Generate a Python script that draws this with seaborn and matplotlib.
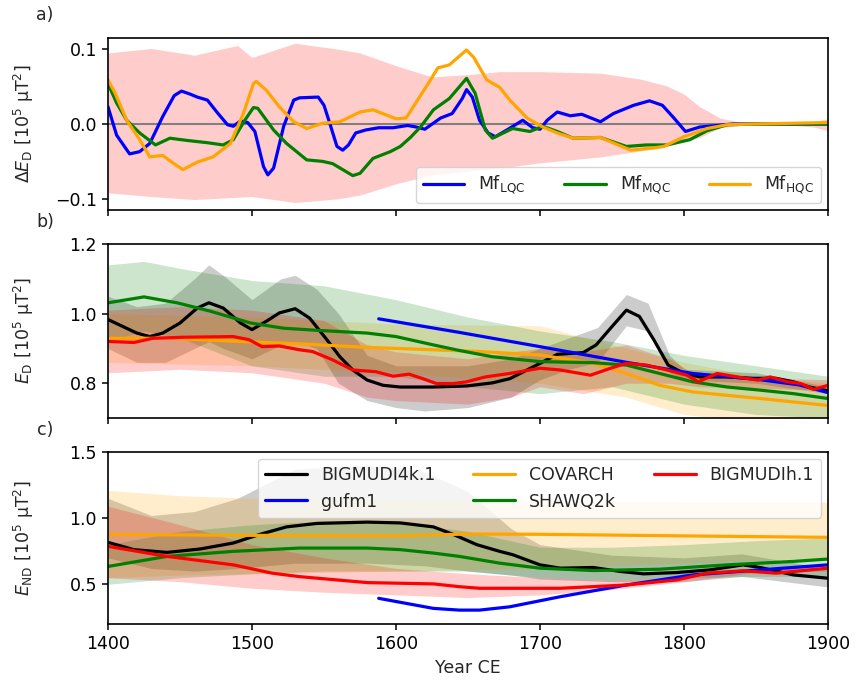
import numpy as np
import pandas as pd
import matplotlib
matplotlib.use("Agg")
import matplotlib.pyplot as plt
import seaborn as sns

# ---------------- Panel a: Delta E_D ----------------
a_lqc_year = [1400,1406,1415,1422,1429,1438,1446,1451,1457,1462,1469,1476,1483,1487,1492,1497,1502,1508,1511,1515,1522,1529,1533,1546,1550,1554,1559,1563,1567,1572,1579,1588,1598,1608,1614,1620,1631,1639,1646,1649,1653,1658,1664,1669,1677,1688,1695,1700,1705,1712,1721,1729,1742,1751,1765,1776,1785,1793,1801,1811,1823,1834,1860,1900]
a_lqc_val = [0.023,-0.015,-0.040,-0.037,-0.026,0.010,0.038,0.044,0.040,0.036,0.032,0.015,-0.001,-0.003,0.004,0.002,-0.010,-0.057,-0.068,-0.059,-0.003,0.032,0.035,0.036,0.025,0.001,-0.030,-0.035,-0.028,-0.012,-0.008,-0.005,-0.005,-0.002,-0.004,-0.007,0.008,0.014,0.034,0.046,0.036,0.005,-0.012,-0.017,-0.008,0.005,-0.005,-0.007,0.005,0.016,0.011,0.013,0.003,0.014,0.025,0.031,0.025,0.008,-0.010,-0.004,-0.002,0.000,0.000,0.000]

a_mqc_year = [1400,1406,1413,1422,1433,1443,1455,1469,1480,1487,1495,1501,1504,1515,1524,1538,1549,1556,1570,1575,1584,1596,1603,1610,1617,1626,1637,1649,1655,1662,1667,1681,1693,1702,1712,1723,1742,1760,1774,1788,1804,1816,1830,1850,1900]
a_mqc_val = [0.054,0.028,0.005,-0.012,-0.028,-0.019,-0.022,-0.025,-0.028,-0.021,0.005,0.022,0.021,-0.008,-0.026,-0.048,-0.050,-0.053,-0.069,-0.066,-0.046,-0.037,-0.030,-0.018,-0.004,0.019,0.034,0.061,0.041,-0.008,-0.019,-0.006,-0.010,-0.003,-0.010,-0.019,-0.018,-0.030,-0.028,-0.028,-0.021,-0.009,-0.001,0.000,0.000]

a_hqc_year = [1400,1405,1413,1422,1429,1438,1445,1452,1462,1473,1485,1494,1501,1503,1510,1519,1529,1538,1549,1561,1575,1584,1600,1607,1615,1624,1629,1637,1649,1654,1663,1672,1679,1691,1702,1712,1723,1742,1763,1779,1786,1800,1816,1830,1850,1900]
a_hqc_val = [0.059,0.041,0.005,-0.021,-0.044,-0.042,-0.052,-0.061,-0.051,-0.044,-0.026,0.014,0.054,0.057,0.045,0.023,0.003,-0.006,0.001,0.003,0.016,0.019,0.007,0.008,0.032,0.059,0.075,0.079,0.099,0.089,0.059,0.049,0.032,0.008,-0.004,-0.012,-0.019,-0.018,-0.035,-0.032,-0.030,-0.017,-0.006,-0.001,0.000,0.002]

a_band_year = [1400,1430,1460,1490,1500,1530,1560,1575,1600,1625,1650,1672,1700,1742,1770,1788,1800,1811,1825,1840,1870,1890,1900]
a_band_up = [0.095,0.101,0.092,0.105,0.089,0.108,0.100,0.095,0.078,0.063,0.066,0.070,0.070,0.068,0.060,0.051,0.040,0.023,0.008,0.002,0.001,0.003,0.007]
a_band_lo = [-0.092,-0.097,-0.101,-0.098,-0.097,-0.105,-0.100,-0.095,-0.080,-0.068,-0.063,-0.059,-0.052,-0.044,-0.036,-0.030,-0.024,-0.018,-0.005,-0.002,-0.001,-0.004,-0.009]

# ---------------- Panel b: E_D ----------------
b_big4k_year = [1400,1420,1429,1438,1450,1462,1470,1480,1492,1500,1510,1519,1530,1540,1552,1561,1570,1580,1591,1603,1626,1649,1667,1679,1691,1700,1712,1730,1739,1749,1760,1769,1779,1789,1800,1811,1830,1848,1864,1876,1887,1900]
b_big4k_val = [0.983,0.944,0.934,0.944,0.973,1.016,1.031,1.016,0.973,0.954,0.978,1.002,1.014,0.987,0.925,0.876,0.838,0.809,0.794,0.789,0.789,0.792,0.801,0.813,0.838,0.857,0.883,0.888,0.910,0.958,1.010,0.992,0.925,0.852,0.828,0.818,0.818,0.814,0.814,0.804,0.789,0.778]
b_big4k_band_year = [1400,1420,1440,1460,1470,1480,1500,1520,1530,1545,1560,1580,1600,1620,1650,1680,1700,1720,1740,1760,1775,1790,1800,1850,1900]
b_big4k_up = [1.05,1.02,1.03,1.10,1.14,1.11,1.04,1.10,1.11,1.07,1.00,0.88,0.85,0.85,0.85,0.87,0.90,0.93,0.96,1.055,1.03,0.88,0.84,0.83,0.79]
b_big4k_lo = [0.90,0.86,0.86,0.90,0.92,0.90,0.87,0.91,0.92,0.90,0.80,0.75,0.73,0.72,0.73,0.76,0.81,0.84,0.86,0.965,0.95,0.83,0.81,0.80,0.77]

b_gufm_year = [1588,1644,1700,1760,1806,1853,1880,1900]
b_gufm_val = [0.985,0.946,0.905,0.860,0.828,0.810,0.795,0.773]

b_cov_year = [1400,1442,1492,1533,1580,1626,1658,1700,1737,1760,1783,1806,1830,1853,1876,1900]
b_cov_val = [0.929,0.929,0.920,0.913,0.903,0.896,0.891,0.881,0.857,0.828,0.794,0.775,0.765,0.756,0.746,0.736]
b_cov_band_year = [1400,1500,1600,1700,1760,1800,1850,1900]
b_cov_up = [1.00,0.99,0.97,0.965,0.90,0.86,0.82,0.80]
b_cov_lo = [0.86,0.85,0.83,0.80,0.76,0.71,0.69,0.67]

b_shaw_year = [1400,1425,1448,1471,1499,1522,1545,1580,1600,1626,1644,1667,1700,1737,1760,1783,1806,1830,1853,1876,1900]
b_shaw_val = [1.031,1.048,1.031,1.007,0.973,0.958,0.952,0.944,0.934,0.910,0.894,0.876,0.862,0.859,0.852,0.828,0.804,0.789,0.780,0.770,0.756]
b_shaw_band_year = [1400,1425,1450,1500,1550,1600,1650,1700,1750,1800,1850,1900]
b_shaw_up = [1.14,1.15,1.13,1.095,1.08,1.04,0.99,0.95,0.92,0.88,0.85,0.82]
b_shaw_lo = [0.92,0.95,0.93,0.85,0.82,0.82,0.79,0.77,0.79,0.74,0.71,0.70]

b_bigh_year = [1400,1418,1431,1452,1487,1498,1507,1519,1533,1542,1556,1570,1586,1598,1609,1618,1628,1640,1649,1662,1679,1700,1714,1735,1749,1760,1774,1788,1802,1810,1823,1837,1851,1860,1872,1881,1890,1900]
b_bigh_val = [0.920,0.917,0.929,0.932,0.934,0.925,0.905,0.907,0.896,0.891,0.867,0.838,0.833,0.820,0.826,0.814,0.799,0.799,0.804,0.818,0.828,0.843,0.838,0.823,0.843,0.857,0.852,0.838,0.823,0.804,0.828,0.818,0.809,0.818,0.804,0.799,0.782,0.794]
b_bigh_band_year = [1400,1450,1500,1550,1580,1600,1650,1680,1700,1730,1760,1790,1810,1900]
b_bigh_up = [1.01,1.02,1.01,0.98,0.91,0.89,0.87,0.89,0.90,0.89,0.91,0.87,0.82,0.81]
b_bigh_lo = [0.83,0.84,0.83,0.80,0.76,0.75,0.74,0.76,0.79,0.77,0.80,0.80,0.79,0.78]

# ---------------- Panel c: E_ND ----------------
c_big4k_year = [1400,1418,1441,1464,1487,1505,1524,1545,1580,1603,1626,1640,1656,1672,1681,1700,1714,1737,1756,1772,1795,1818,1841,1853,1876,1900]
c_big4k_val = [0.817,0.762,0.741,0.767,0.812,0.876,0.934,0.960,0.970,0.964,0.934,0.876,0.800,0.749,0.724,0.647,0.622,0.627,0.597,0.579,0.589,0.609,0.647,0.627,0.571,0.546]
c_big4k_band_year = [1400,1430,1460,1490,1530,1580,1620,1650,1680,1700,1750,1800,1840,1900]
c_big4k_up = [1.15,1.02,1.05,1.15,1.37,1.40,1.35,1.20,0.92,0.80,0.72,0.70,0.73,0.62]
c_big4k_lo = [0.70,0.62,0.60,0.62,0.66,0.66,0.64,0.60,0.57,0.54,0.52,0.52,0.56,0.48]

c_gufm_year = [1588,1626,1644,1658,1679,1714,1760,1806,1853,1900]
c_gufm_val = [0.394,0.318,0.305,0.305,0.330,0.406,0.495,0.571,0.609,0.647]

c_cov_year = [1400,1500,1600,1650,1700,1800,1900]
c_cov_val = [0.876,0.870,0.866,0.880,0.878,0.866,0.855]
c_cov_band_year = [1400,1450,1500,1600,1700,1800,1900]
c_cov_up = [1.21,1.17,1.15,1.14,1.13,1.12,1.12]
c_cov_lo = [0.55,0.57,0.58,0.60,0.62,0.66,0.70]

c_shaw_year = [1400,1441,1487,1533,1580,1603,1626,1644,1672,1700,1737,1783,1830,1876,1900]
c_shaw_val = [0.635,0.711,0.749,0.774,0.774,0.762,0.736,0.711,0.660,0.622,0.604,0.614,0.647,0.673,0.691]
c_shaw_band_year = [1400,1450,1500,1550,1600,1650,1700,1750,1800,1850,1900]
c_shaw_up = [0.80,0.90,0.95,0.98,0.97,0.90,0.78,0.78,0.80,0.83,0.85]
c_shaw_lo = [0.50,0.55,0.58,0.60,0.60,0.60,0.55,0.53,0.55,0.56,0.56]

c_bigh_year = [1400,1441,1487,1514,1533,1580,1626,1644,1658,1672,1714,1760,1795,1816,1841,1864,1900]
c_bigh_val = [0.787,0.711,0.647,0.584,0.558,0.513,0.503,0.482,0.470,0.470,0.470,0.495,0.533,0.584,0.602,0.584,0.622]
c_bigh_band_year = [1400,1450,1500,1550,1600,1650,1700,1750,1800,1850,1900]
c_bigh_up = [1.09,0.95,0.80,0.70,0.62,0.58,0.55,0.53,0.55,0.62,0.64]
c_bigh_lo = [0.55,0.52,0.47,0.44,0.42,0.40,0.42,0.46,0.52,0.59,0.60]

xticks = [1400, 1500, 1600, 1700, 1800, 1900]

# ---------------- style ----------------
sns.set_theme(style="ticks")
plt.rcParams["font.family"] = ["DejaVu Sans"]
plt.rcParams.update({
    "font.size": 12.5,
    "axes.edgecolor": "black",
    "axes.linewidth": 1.2,
    "xtick.color": "black",
    "ytick.color": "black",
    "xtick.major.size": 4.5,
    "ytick.major.size": 4.5,
    "xtick.major.width": 1.1,
    "ytick.major.width": 1.1,
    "xtick.labelsize": 12.5,
    "ytick.labelsize": 12.5,
    "axes.labelsize": 12.5,
    "legend.fontsize": 12.5,
    "mathtext.fontset": "dejavusans",
})

fig = plt.figure(figsize=(8.6, 6.87), dpi=100)
L, W = 108/860, 720/860
ax_a = fig.add_axes([L, 1-210/687, W, 172/687])
ax_b = fig.add_axes([L, 1-418/687, W, 174/687])
ax_c = fig.add_axes([L, 1-624/687, W, 172/687])

LW = 2.3

def band(ax, yrs, lo, up, color):
    ax.fill_between(yrs, lo, up, color=color, alpha=0.2, lw=0)

def line(ax, yrs, vals, color, label=None):
    sns.lineplot(x=yrs, y=vals, ax=ax, color=color, lw=LW, label=label,
                 sort=False, estimator=None)

# Panel a
band(ax_a, a_band_year, a_band_lo, a_band_up, "red")
ax_a.axhline(0, color="gray", lw=1.5, zorder=1)
line(ax_a, a_lqc_year, a_lqc_val, "blue", r"Mf$_{\rm LQC}$")
line(ax_a, a_mqc_year, a_mqc_val, "green", r"Mf$_{\rm MQC}$")
line(ax_a, a_hqc_year, a_hqc_val, "orange", r"Mf$_{\rm HQC}$")
ax_a.set_ylim(-0.115, 0.115)
ax_a.set_yticks([-0.1, 0.0, 0.1])
ax_a.legend(loc="lower right", ncol=3, frameon=True, fancybox=True,
            handlelength=2.4, columnspacing=2.2, borderaxespad=0.4)

# Panel b
band(ax_b, b_big4k_band_year, b_big4k_lo, b_big4k_up, "black")
band(ax_b, b_cov_band_year, b_cov_lo, b_cov_up, "orange")
band(ax_b, b_shaw_band_year, b_shaw_lo, b_shaw_up, "green")
band(ax_b, b_bigh_band_year, b_bigh_lo, b_bigh_up, "red")
line(ax_b, b_big4k_year, b_big4k_val, "black")
line(ax_b, b_gufm_year, b_gufm_val, "blue")
line(ax_b, b_cov_year, b_cov_val, "orange")
line(ax_b, b_shaw_year, b_shaw_val, "green")
line(ax_b, b_bigh_year, b_bigh_val, "red")
ax_b.set_ylim(0.7, 1.2)
ax_b.set_yticks([0.8, 1.0, 1.2])

# Panel c
band(ax_c, c_big4k_band_year, c_big4k_lo, c_big4k_up, "black")
band(ax_c, c_cov_band_year, c_cov_lo, c_cov_up, "orange")
band(ax_c, c_shaw_band_year, c_shaw_lo, c_shaw_up, "green")
band(ax_c, c_bigh_band_year, c_bigh_lo, c_bigh_up, "red")
line(ax_c, c_big4k_year, c_big4k_val, "black", "BIGMUDI4k.1")
line(ax_c, c_gufm_year, c_gufm_val, "blue", "gufm1")
line(ax_c, c_cov_year, c_cov_val, "orange", "COVARCH")
line(ax_c, c_shaw_year, c_shaw_val, "green", "SHAWQ2k")
line(ax_c, c_bigh_year, c_bigh_val, "red", "BIGMUDIh.1")
ax_c.set_ylim(0.2, 1.5)
ax_c.set_yticks([0.5, 1.0, 1.5])
ax_c.legend(loc="upper right", ncol=3, frameon=True, fancybox=True,
            handlelength=2.4, columnspacing=2.2, borderaxespad=0.4)

for ax in (ax_a, ax_b, ax_c):
    ax.set_xlim(1400, 1900)
    ax.set_xticks(xticks)
    ax.tick_params(direction="out")
    for s in ax.spines.values():
        s.set_visible(True)
        s.set_color("black")
ax_a.set_xticklabels([])
ax_b.set_xticklabels([])
ax_c.set_xticklabels([str(t) for t in xticks])

ax_a.set_ylabel(r"$\Delta E_{\rm D}$ [10$^5$ μT$^2$]")
ax_b.set_ylabel(r"$E_{\rm D}$ [10$^5$ μT$^2$]")
ax_c.set_ylabel(r"$E_{\rm ND}$ [10$^5$ μT$^2$]")
for ax in (ax_a, ax_b, ax_c):
    ax.yaxis.set_label_coords(-0.1, 0.5)
ax_a.set_xlabel("")
ax_b.set_xlabel("")
ax_c.set_xlabel("Year CE")

fig.text(45/860, 1-15/687, "a)", ha="center", va="center", fontsize=12.5)
fig.text(45/860, 1-222/687, "b)", ha="center", va="center", fontsize=12.5)
fig.text(45/860, 1-430/687, "c)", ha="center", va="center", fontsize=12.5)

fig.savefig("out.png", dpi=100, facecolor="white")
